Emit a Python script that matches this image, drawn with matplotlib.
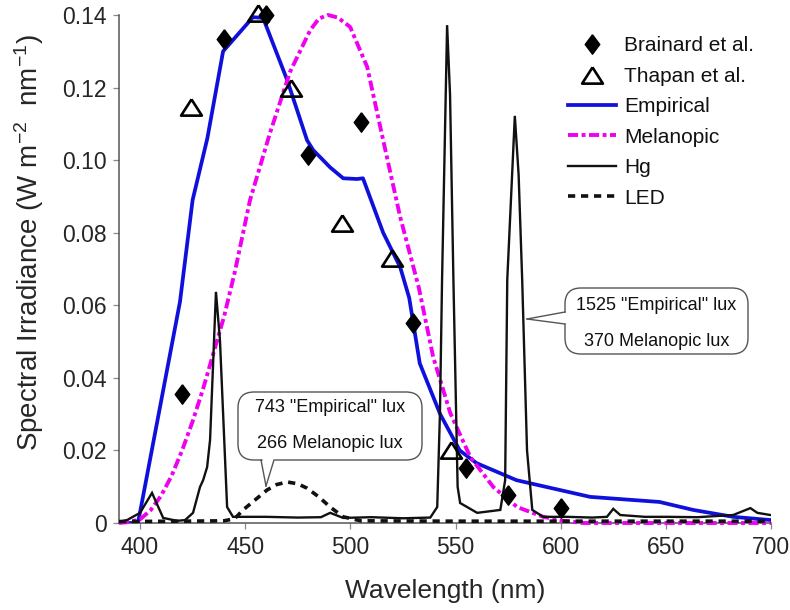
import numpy as np
import matplotlib
matplotlib.use("Agg")
import matplotlib.pyplot as plt
from matplotlib.patches import FancyBboxPatch, Polygon
from matplotlib.lines import Line2D
import matplotlib.transforms as mtransforms

plt.rcParams['font.family'] = ['Liberation Sans', 'DejaVu Sans']
plt.rcParams['mathtext.fontset'] = 'custom'
plt.rcParams['mathtext.rm'] = 'Liberation Sans'
plt.rcParams['mathtext.it'] = 'Liberation Sans:italic'
plt.rcParams['mathtext.bf'] = 'Liberation Sans:bold'

# ---- data ---------------------------------------------------------------
brainard_nm = [420, 440, 460, 480, 505, 530, 555, 575, 600]
brainard_val = [0.0355, 0.1334, 0.1400, 0.1014, 0.1105, 0.0551, 0.0152, 0.0077, 0.0041]

thapan_nm = [424, 456, 472, 496, 520, 548]
thapan_val = [0.1146, 0.1405, 0.1199, 0.0827, 0.0730, 0.0201]

empirical_nm = [390, 399, 401, 419, 425, 432, 439.5, 453.7, 458.5, 470, 479.4, 482.3,
                490.4, 496.6, 503.2, 506, 515.6, 523.7, 528, 533, 542.7, 552, 560,
                579, 614, 647, 663, 682, 700]
empirical_val = [0.0, 0.0, 0.006, 0.061, 0.089, 0.106, 0.130, 0.1394, 0.1392, 0.122,
                 0.1055, 0.1028, 0.098, 0.095, 0.0948, 0.095, 0.080, 0.0705, 0.062,
                 0.044, 0.030, 0.020, 0.0165, 0.0118, 0.0072, 0.0058, 0.0036,
                 0.0017, 0.0008]

melanopic_nm = [390, 395, 400, 405, 410, 415, 420, 425, 430, 435, 440, 445, 452.3,
                461.8, 471.3, 480.9, 485, 489.4, 494, 499.9, 508, 515.6, 523.7,
                532.5, 539.4, 547.5, 557, 568, 579.3, 591.7, 600, 610.7, 650, 700]
melanopic_val = [0.0, 0.0003, 0.001, 0.0035, 0.0075, 0.013, 0.020, 0.028, 0.037,
                 0.047, 0.057, 0.069, 0.089, 0.1075, 0.1243, 0.1358, 0.1390, 0.1400,
                 0.1393, 0.1367, 0.1257, 0.1055, 0.0843, 0.0650, 0.0457, 0.0303,
                 0.0182, 0.0099, 0.0044, 0.0017, 0.0007, 0.0, 0.0, 0.0]

hg_nm = [389.5, 393.8, 400, 405.7, 411, 417.6, 421.4, 425.2, 428.5, 430, 431.9,
         433.3, 436.1, 438, 441.4, 444.2, 460, 475, 486, 490.4, 496.6, 510, 525,
         538, 541.3, 542.6, 543.6, 546, 547.4, 549, 551, 552.2, 560.3, 571.3,
         573.6, 574.6, 578.2, 580, 581.7, 584, 586.5, 591.7, 603, 615, 622, 625,
         628.3, 640, 650.7, 665, 682, 690.2, 693.5, 699.7]
hg_val = [0.0003, 0.0008, 0.0028, 0.0083, 0.0014, 0.0006, 0.0008, 0.0028, 0.0099,
          0.0118, 0.0154, 0.0229, 0.0637, 0.0504, 0.0044, 0.0017, 0.0017, 0.0015,
          0.0016, 0.0028, 0.0014, 0.0016, 0.0013, 0.0015, 0.0044, 0.0303, 0.067,
          0.1372, 0.1180, 0.067, 0.010, 0.0055, 0.0028, 0.0036, 0.0118, 0.067,
          0.1122, 0.0960, 0.067, 0.020, 0.0036, 0.0017, 0.0017, 0.0015, 0.0017,
          0.0039, 0.0022, 0.0017, 0.0017, 0.0016, 0.0022, 0.0041, 0.0028, 0.0022]

led_nm = [390, 420, 440, 445, 449, 455, 460.4, 465, 470, 475, 479.4, 485, 490.4,
          496.6, 505, 550, 600, 650, 700]
led_val = [0.0004, 0.0005, 0.0006, 0.0012, 0.0036, 0.0065, 0.0091, 0.0106, 0.0113,
           0.0108, 0.0096, 0.0072, 0.0044, 0.0017, 0.0006, 0.0005, 0.0005, 0.0005,
           0.0005]

x_ticks = [400, 450, 500, 550, 600, 650, 700]
y_ticks = [0, 0.02, 0.04, 0.06, 0.08, 0.10, 0.12, 0.14]
y_tick_labels = ['0', '0.02', '0.04', '0.06', '0.08', '0.10', '0.12', '0.14']

callout_hg = ['1525 "Empirical" lux', '370 Melanopic lux']
callout_led = ['743 "Empirical" lux', '266 Melanopic lux']

# ---- figure ---------------------------------------------------------------
W, H = 790, 610
fig = plt.figure(figsize=(W / 100, H / 100), dpi=100)
ax = fig.add_axes([119 / W, 1 - 523 / H, (771 - 119) / W, (523 - 15) / H])

blue = '#1010dc'
magenta = '#f000f0'
ink = '#111111'

ax.plot(empirical_nm, empirical_val, color=blue, lw=2.7, solid_joinstyle='round',
        label='Empirical', zorder=3)
ax.plot(melanopic_nm, melanopic_val, color=magenta, lw=2.8,
        linestyle=(0, (2.6, 0.9, 1.0, 0.9)), label='Melanopic', zorder=3,
        clip_on=False)
ax.plot(hg_nm, hg_val, color=ink, lw=1.7, label='Hg', zorder=4,
        solid_joinstyle='miter')
ax.plot(led_nm, led_val, color=ink, lw=2.6, linestyle=(0, (2.0, 1.6)),
        label='LED', zorder=4, clip_on=False)

diamond = [(0, 1), (0.75, 0), (0, -1), (-0.75, 0), (0, 1)]
triangle = [(0, 0.78), (1, -0.78), (-1, -0.78), (0, 0.78)]
ax.plot(brainard_nm, brainard_val, linestyle='none', marker=diamond, ms=14,
        color='black', mec='black', label='Brainard et al.', zorder=5,
        clip_on=False)
ax.plot(thapan_nm, thapan_val, linestyle='none', marker=triangle, ms=15,
        mfc='none', mec='black', mew=1.9, label='Thapan et al.', zorder=5,
        clip_on=False)

ax.set_xlim(390, 700)
ax.set_ylim(0, 0.14)
ax.set_xticks(x_ticks)
ax.set_yticks(y_ticks)
ax.set_yticklabels(y_tick_labels)

for side in ('top', 'right'):
    ax.spines[side].set_visible(False)
for side in ('left', 'bottom'):
    ax.spines[side].set_color('#555555')
    ax.spines[side].set_linewidth(1.1)
ax.tick_params(axis='both', direction='out', length=4, width=0.9, color='#888888',
               labelsize=16.5, labelcolor='#262626', pad=5)

ax.set_xlabel('Wavelength (nm)', fontsize=19, color='#262626')
ax.xaxis.set_label_coords(0.5, -0.11)
ax.set_ylabel(r'Spectral Irradiance (W m$^{\mathregular{-2}}$  nm$^{\mathregular{-1}}$)',
              fontsize=20, color='#262626')
ax.yaxis.set_label_coords(-0.112, 0.551)

# legend: markers first, then lines
handles, labels = ax.get_legend_handles_labels()
order = ['Brainard et al.', 'Thapan et al.', 'Empirical', 'Melanopic', 'Hg', 'LED']
hmap = dict(zip(labels, handles))
leg = ax.legend([hmap[k] for k in order], order, loc='upper left',
                bbox_to_anchor=(0.6887, 0.958), frameon=False, fontsize=15,
                handlelength=2.3, handletextpad=0.4, labelspacing=0.55,
                borderaxespad=0, borderpad=0, numpoints=1)
for t in leg.get_texts():
    t.set_color('#111111')

# ---- callouts (pixel coordinates, origin at top-left) ----------------------
pix = mtransforms.Affine2D().scale(1 / W, -1 / H).translate(0, 1) + fig.transFigure


def callout(x0, y0, x1, y1, base_a, base_b, tip, lines, line_y):
    box = FancyBboxPatch((x0, y0), x1 - x0, y1 - y0,
                         boxstyle='round,pad=0,rounding_size=16',
                         transform=pix, facecolor='white', edgecolor='#555555',
                         linewidth=1.0, zorder=6)
    fig.add_artist(box)
    # white wedge that opens the box outline where the pointer joins it
    (ax_, ay_), (bx_, by_) = base_a, base_b
    cx, cy = (x0 + x1) / 2, (y0 + y1) / 2
    ia = (ax_ + (cx - ax_) * 0.02, ay_ + (cy - ay_) * 0.06)
    ib = (bx_ + (cx - bx_) * 0.02, by_ + (cy - by_) * 0.06)
    wedge = Polygon([ia, tip, ib], closed=True, transform=pix, facecolor='white',
                    edgecolor='none', zorder=7)
    fig.add_artist(wedge)
    for p in (base_a, base_b):
        fig.add_artist(Line2D([p[0], tip[0]], [p[1], tip[1]], transform=pix,
                              color='#555555', lw=1.0, zorder=8))
    for txt, yy in zip(lines, line_y):
        fig.text((x0 + x1) / 2, yy, txt, transform=pix, ha='center', va='center',
                 fontsize=13, color='#111111', zorder=9)


callout(238, 392, 422, 460, (261, 460), (274, 460), (266, 486),
        callout_led, (407, 443))
callout(565, 288, 748, 354, (565, 312), (565, 324), (527, 319),
        callout_hg, (305, 341))

fig.savefig('out.png', dpi=100)
